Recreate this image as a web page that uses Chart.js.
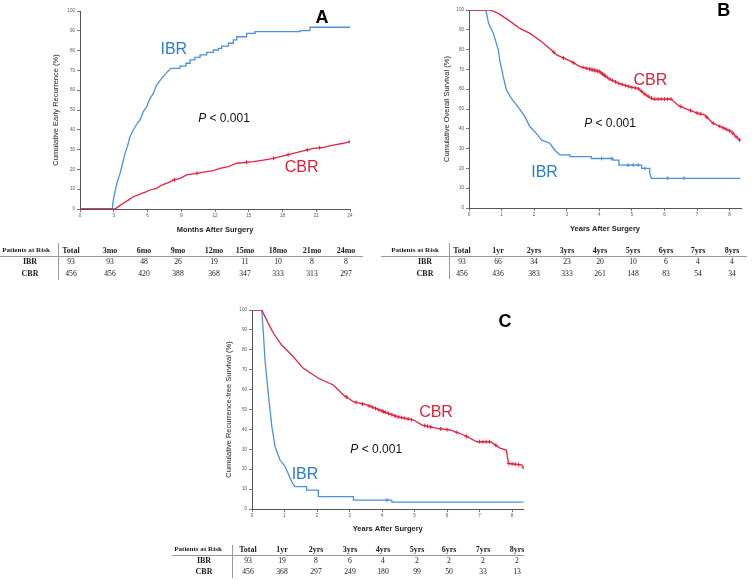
<!DOCTYPE html>
<html><head><meta charset="utf-8">
<script src="https://cdn.jsdelivr.net/npm/chart.js@4.4.0/dist/chart.umd.min.js"></script>
<style>
html,body{margin:0;padding:0;background:#fff}
body{width:753px;height:580px;position:relative;overflow:hidden}
.panel{position:absolute}
#tables{position:absolute;left:0;top:0;width:753px;height:580px;will-change:transform}
.cell{position:absolute;transform:translate(-50%,-50%);white-space:nowrap;font-family:"Liberation Serif","Times New Roman",serif;font-size:7.7px;color:#1a1a1a;line-height:1}
.hd{font-weight:bold;font-size:8px}
.par{font-weight:bold;font-size:7.1px}
.hl{position:absolute;height:1px;background:#999}
.vl{position:absolute;width:1px;background:#999}
</style></head>
<body>
<div class="panel" style="left:0;top:0"><canvas id="cA" width="365" height="240"></canvas></div>
<div class="panel" style="left:380px;top:0"><canvas id="cB" width="373" height="240"></canvas></div>
<div class="panel" style="left:170px;top:300px"><canvas id="cC" width="370" height="240"></canvas></div>
<div id="tables"></div>
<script>
// ---------- DATA ----------
// Panel A: cumulative early recurrence (%) vs months after surgery
const ibrA_t = [0,2.87,2.96,3.11,3.32,3.56,3.79,4.0,4.21,4.44,4.74,5.1,5.33,5.63,5.93,6.22,6.52,6.81,7.26,7.64,8.06,8.89,8.89,9.42,9.42,9.78,9.78,10.22,10.22,10.67,10.67,11.26,11.26,11.85,11.85,12.3,12.3,12.59,12.59,13.19,13.19,13.63,13.63,13.93,13.93,14.81,14.81,15.56,15.56,19.56,19.56,20.44,20.44,24];
const ibrA_v = [0,0,4.5,8.8,13.8,18,23.1,28.1,31.5,36.5,39.9,43.3,44.9,49.2,51.7,55.9,58.4,62.6,66,68.5,71,71,72.2,72.2,73.6,73.6,75.3,75.3,76.6,76.6,77.8,77.8,79.1,79.1,80.3,80.3,81.1,81.1,82.3,82.3,83.7,83.7,85.4,85.4,87,87,88.7,88.7,89.6,89.6,90.1,90.1,91.8,91.8];
const cbrA_t = [0,3.11,3.41,3.85,4.30,4.74,5.19,5.48,5.93,6.22,6.81,7.26,7.85,8.30,8.89,9.48,10.37,11.26,11.85,12.44,13.19,13.93,14.81,15.41,16.30,17.19,18.07,18.96,19.85,20.74,21.63,22.52,23.41,24];
const cbrA_v = [0,0,1.2,2.9,4.5,6.2,7.1,7.9,8.8,9.6,10.4,12.1,13.3,14.6,15.5,17.2,18.0,18.9,19.4,20.5,21.4,23.1,23.6,23.9,24.7,25.6,26.8,28.1,29.3,30.6,31.1,32.3,33.2,34.0];
const ibrA_censor = [];
const cbrA_censor = [8.4,10.4,14.8,17.2,18.5,20.2,21.3,24];

// Panel B: cumulative overall survival (%) vs years after surgery
const cbrB_t = [0,0.64,0.9,1.2,1.56,1.87,2.23,2.53,2.69,3.15,3.4,3.81,4.01,4.27,4.58,4.98,5.19,5.44,5.65,6.2,6.41,6.62,7.03,7.23,7.49,7.84,8.05,8.2,8.33];
const cbrB_v = [100,100,98.3,95,90.7,88.2,84,79.8,77.3,73.9,71.4,69.7,68.9,65.5,63,61,60.4,57,55,55,52,50.3,47.8,47,42.8,40.2,38.6,36,34];
const ibrB_t = [0,0.52,0.6,0.75,0.9,0.95,1.05,1.15,1.3,1.5,1.72,1.87,2.02,2.23,2.48,2.63,2.79,3.1,3.1,3.76,3.76,4.42,4.42,4.6,4.6,5.3,5.3,5.55,5.55,5.6,8.33];
const ibrB_v = [100,100,93.3,88.2,79.8,74,66.3,59.6,55.4,51.2,46,41,38.6,34.3,32.7,29.3,26.8,26.8,25.9,25.9,25,25,24.2,24.2,21.7,21.7,20,20,17.5,15,15];
const cbrB_censor = [2.6,2.9,3.2,3.5,3.6,3.7,3.75,3.8,3.85,3.9,3.95,4.0,4.05,4.1,4.15,4.2,4.3,4.4,4.5,4.6,4.7,4.8,4.9,5.0,5.1,5.2,5.3,5.4,5.5,5.6,5.7,5.8,5.9,6.0,6.1,6.2,6.5,6.8,7.0,7.1,7.3,7.5,7.7,7.8,7.9,8.0,8.1,8.2,8.3];
const ibrB_censor = [4.07,4.37,4.88,5.04,5.19,5.4,6.1,6.6];

// Panel C: cumulative recurrence-free survival (%) vs years after surgery
const cbrC_t = [0,0.3,0.5,0.66,0.91,1.22,1.58,2.04,2.5,2.81,3.12,3.53,4.05,4.46,4.97,5.23,5.69,6.1,6.51,6.92,7.33,7.64,7.82,7.89,8.31,8.36];
const cbrC_v = [100,100,93.3,88.3,82.4,77.4,70.7,65.7,62.3,57.3,53.9,52.3,48.9,46.4,44.7,42.2,40.5,39.7,37.2,33.8,33.8,30.5,29.6,22.9,22.1,20.4];
const ibrC_t = [0,0.3,0.35,0.4,0.5,0.61,0.71,0.86,1.02,1.22,1.32,1.68,1.68,2.04,2.04,3.12,3.12,4.3,4.3,8.36];
const ibrC_v = [100,100,88.3,74.9,58.1,41.4,31.3,24.6,21.3,13.7,11.2,11.2,9.5,9.5,6.2,6.2,4.5,4.5,3.5,3.5];
const cbrC_censor = [2.9,3.2,3.4,3.6,3.7,3.8,3.9,4.0,4.05,4.1,4.2,4.3,4.4,4.5,4.6,4.7,4.8,4.9,5.3,5.4,5.5,5.8,6.0,6.3,6.6,7.0,7.1,7.2,7.3,7.5,7.9,8.0,8.1,8.2,8.35];
const ibrC_censor = [4.15];

// Patients-at-risk tables
const riskLabelA = ['Total','3mo','6mo','9mo','12mo','15mo','18mo','21mo','24mo'];
const riskIbrA = [93,93,48,26,19,11,10,8,8];
const riskCbrA = [456,456,420,388,368,347,333,313,297];
const riskLabelYrs = ['Total','1yr','2yrs','3yrs','4yrs','5yrs','6yrs','7yrs','8yrs'];
const riskIbrB = [93,66,34,23,20,10,6,4,4];
const riskCbrB = [456,436,383,333,261,148,83,54,34];
const riskIbrC = [93,19,8,6,4,2,2,2,2];
const riskCbrC = [456,368,297,249,180,99,50,33,13];

// ---------- STYLE ----------
const IBR_LINE = '#4d90d9', CBR_LINE = '#e2243e';
const IBR_TEXT = '#2c7cc6', CBR_TEXT = '#d8253b';
const FF = '"Liberation Sans", Arial, sans-serif';
Chart.defaults.font.family = FF;

function pts(t, v){ return t.map((x,i)=>({x:x, y:v[i]})); }
function valAt(t, v, x){
  for(let i=1;i<t.length;i++){ if(x<=t[i]){ const d=t[i]-t[i-1]; if(d<=0) return v[i]; return v[i-1]+(x-t[i-1])/d*(v[i]-v[i-1]); } }
  return v[v.length-1];
}

const panelText = {
  id:'panelText',
  afterDatasetsDraw(chart, _a, opts){
    const ctx=chart.ctx, xs=chart.scales.x, ys=chart.scales.y;
    (opts.items||[]).forEach(it=>{
      const px=xs.getPixelForValue(it.x), py=ys.getPixelForValue(it.y);
      ctx.save(); ctx.textBaseline='middle'; ctx.textAlign='left'; ctx.fillStyle=it.color;
      const runs = it.runs.map(r=>({text:r[0], font:r[1]}));
      let w=0; runs.forEach(r=>{ctx.font=r.font; r.w=ctx.measureText(r.text).width; w+=r.w;});
      let cx=px-w/2;
      runs.forEach(r=>{ctx.font=r.font; ctx.fillText(r.text,cx,py); cx+=r.w;});
      ctx.restore();
    });
  }
};

function labelItems(ibrPos, cbrPos, pPos, letter, letterPos){
  return [
    {x:ibrPos[0], y:ibrPos[1], color:IBR_TEXT, runs:[['IBR','16px '+FF]]},
    {x:cbrPos[0], y:cbrPos[1], color:CBR_TEXT, runs:[['CBR','16px '+FF]]},
    {x:pPos[0], y:pPos[1], color:'#111', runs:[['P','italic 12px '+FF],[' < 0.001','12px '+FF]]},
    {x:letterPos[0], y:letterPos[1], color:'#000', runs:[[letter,'bold 18px '+FF]]}
  ];
}

function build(id, p){
  const ds = [
    {data:pts(p.cbr[0],p.cbr[1]), borderColor:CBR_LINE, borderWidth:1.3, pointRadius:0, tension:0, fill:false},
    {data:p.cbrC.map(x=>({x:x,y:valAt(p.cbr[0],p.cbr[1],x)})), showLine:false, pointStyle:'cross', pointRadius:2, borderColor:CBR_LINE, borderWidth:1},
    {data:pts(p.ibr[0],p.ibr[1]), borderColor:IBR_LINE, borderWidth:1.3, pointRadius:0, tension:0, fill:false},
    {data:p.ibrC.map(x=>({x:x,y:valAt(p.ibr[0],p.ibr[1],x)})), showLine:false, pointStyle:'cross', pointRadius:2, borderColor:IBR_LINE, borderWidth:1}
  ];
  const tickFont = {size:4.6};
  return new Chart(document.getElementById(id), {
    type:'line',
    data:{datasets:ds},
    options:{
      responsive:false, animation:false, events:[],
      layout:{padding:p.pad},
      plugins:{legend:{display:false}, tooltip:{enabled:false}, panelText:{items:p.texts}},
      scales:{
        x:{type:'linear', min:0, max:p.xMax,
           ticks:{stepSize:p.xStep, includeBounds:false, font:tickFont, color:'#555', padding:1, maxRotation:0, autoSkip:false},
           grid:{drawOnChartArea:false, drawTicks:true, tickLength:3, color:'#777'},
           border:{display:true, color:'#555', width:1},
           title:{display:true, text:p.xTitle, font:{size:7.5, weight:'bold'}, color:'#222', padding:{top:0,bottom:p.xTitlePad}},
           afterFit(s){ s.height = p.xH; }},
        y:{min:0, max:100,
           ticks:{stepSize:10, font:tickFont, color:'#555', padding:2},
           grid:{drawOnChartArea:false, drawTicks:true, tickLength:3, color:'#777'},
           border:{display:true, color:'#555', width:1},
           title:{display:true, text:p.yTitle, font:{size:7.5}, color:'#222', padding:{top:p.yTitlePad,bottom:0}},
           afterFit(s){ s.width = p.yW; }}
      }
    },
    plugins:[panelText]
  });
}

build('cA', {ibr:[ibrA_t,ibrA_v], cbr:[cbrA_t,cbrA_v], ibrC:ibrA_censor, cbrC:cbrA_censor,
  xMax:24, xStep:3, xTitle:'Months After Surgery', yTitle:'Cumulative Early Recurrence (%)',
  pad:{left:0, top:11, right:15, bottom:0}, xH:31, yW:80, xTitlePad:5.5, yTitlePad:51.5,
  texts:labelItems([8.34,80.6],[19.7,20.8],[12.8,45.5],'A',[21.5,96.5])});

build('cB', {ibr:[ibrB_t,ibrB_v], cbr:[cbrB_t,cbrB_v], ibrC:ibrB_censor, cbrC:cbrB_censor,
  xMax:8.35, xStep:1, xTitle:'Years After Surgery', yTitle:'Cumulative Overall Survival (%)',
  pad:{left:0, top:10, right:12, bottom:0}, xH:32, yW:89, xTitlePad:6.5, yTitlePad:62.5,
  texts:labelItems([2.32,18],[5.57,64.5],[4.33,42.8],'B',[7.82,99.7])});

build('cC', {ibr:[ibrC_t,ibrC_v], cbr:[cbrC_t,cbrC_v], ibrC:ibrC_censor, cbrC:cbrC_censor,
  xMax:8.35, xStep:1, xTitle:'Years After Surgery', yTitle:'Cumulative Recurrence-free Survival (%)',
  pad:{left:0, top:10, right:16.5, bottom:0}, xH:31, yW:82, xTitlePad:6.5, yTitlePad:54.5,
  texts:labelItems([1.63,17.2],[5.66,48.2],[3.82,29.6],'C',[7.78,94])});

// ---------- TABLES ----------
const host = document.getElementById('tables');
function add(cls, text, x, y){ const d=document.createElement('div'); d.className=cls; d.textContent=text; d.style.left=x+'px'; d.style.top=y+'px'; host.appendChild(d); }
function line(cls, l, t, w, h){ const d=document.createElement('div'); d.className=cls; d.style.left=l+'px'; d.style.top=t+'px'; if(w) d.style.width=w+'px'; if(h) d.style.height=h+'px'; host.appendChild(d); }
function table(g, heads, ibr, cbr){
  add('cell par','Patients at Risk', g.lab, g.rows[0]);
  add('cell hd','IBR', g.rowLab, g.rows[1]);
  add('cell hd','CBR', g.rowLab, g.rows[2]);
  heads.forEach((h,i)=>{
    add('cell hd', h, g.cols[i], g.rows[0]);
    add('cell', String(ibr[i]), g.cols[i], g.rows[1]);
    add('cell', String(cbr[i]), g.cols[i], g.rows[2]);
  });
  line('hl', g.hl[0], g.hl[1], g.hl[2]);
  line('vl', g.vl[0], g.vl[1], 0, g.vl[2]);
}
table({lab:26, rowLab:30, rows:[251,262,274], cols:[71,110,144,178,214,245,278,312,346], hl:[0,256,363], vl:[58,243,37]}, riskLabelA, riskIbrA, riskCbrA);
table({lab:415, rowLab:425, rows:[251,262,274], cols:[462,498,534,567,600,633,666,698,732], hl:[381,256,366], vl:[449,243,36]}, riskLabelYrs, riskIbrB, riskCbrB);
table({lab:198, rowLab:204, rows:[550,561,572], cols:[248,282,316,350,383,417,449,483,517], hl:[172,555,352], vl:[232,545,33]}, riskLabelYrs, riskIbrC, riskCbrC);
</script>
</body></html>
